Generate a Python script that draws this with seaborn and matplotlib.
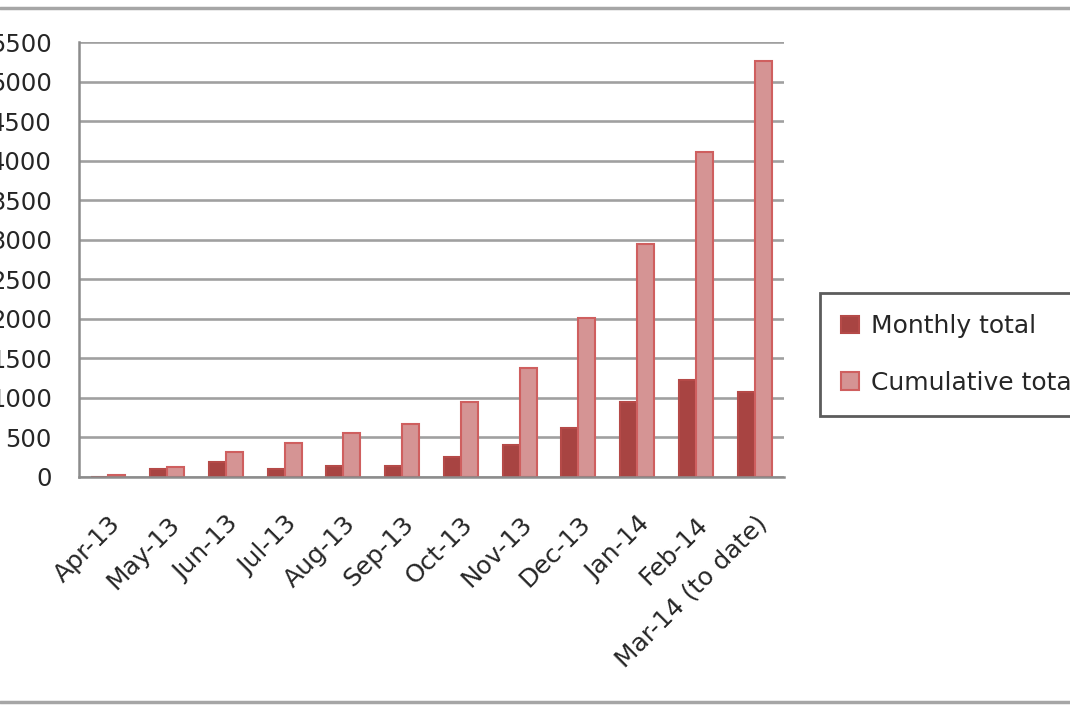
import numpy as np
import pandas as pd
import matplotlib.pyplot as plt
import seaborn as sns
from matplotlib.lines import Line2D

months = ["Apr-13", "May-13", "Jun-13", "Jul-13", "Aug-13", "Sep-13",
          "Oct-13", "Nov-13", "Dec-13", "Jan-14", "Feb-14", "Mar-14 (to date)"]
monthly = [0, 100, 190, 100, 140, 140, 250, 405, 615, 945, 1225, 1070]
cumulative = [30, 125, 315, 430, 555, 670, 945, 1375, 2005, 2950, 4105, 5255]
series = ["Monthly total", "Cumulative total"]

df = pd.DataFrame({
    "month": months * 2,
    "value": monthly + cumulative,
    "series": [series[0]] * len(months) + [series[1]] * len(months),
})

sns.set_style("white")
plt.rcParams['font.family'] = ['DejaVu Sans']

fig = plt.figure(figsize=(10.7, 7.13), dpi=100)
ax = fig.add_axes([79 / 1070, 1 - 477 / 713, (784 - 79) / 1070, (477 - 42) / 713])

fills = ["#A84442", "#D59494"]
edges = ["#B54A48", "#CF5F5F"]
sns.barplot(data=df, x="month", y="value", hue="series", order=months,
            hue_order=series, palette=fills, width=0.58, legend=False,
            saturation=1, ax=ax)
for cont, ec in zip(ax.containers, edges):
    for bar in cont:
        bar.set_edgecolor(ec)
        bar.set_linewidth(1.5)

# axes styling (Excel look)
ax.set_ylim(0, 5500)
ax.set_xlim(-0.5, len(months) - 0.5)
ax.set_yticks(np.arange(0, 5501, 500))
ax.yaxis.grid(True, color="#A0A0A0", linewidth=1.9)
ax.set_axisbelow(True)
for s in ["top", "right"]:
    ax.spines[s].set_visible(False)
for s in ["left", "bottom"]:
    ax.spines[s].set_color("#8C8C8C")
    ax.spines[s].set_linewidth(1.8)

ax.set_xlabel("")
ax.set_ylabel("")

ax.set_xticks(np.arange(-0.5, len(months)), minor=True)
ax.tick_params(axis="x", which="minor", length=7, width=1.8, color="#8C8C8C", direction="out")
ax.tick_params(axis="x", which="major", length=0, pad=25)
ax.tick_params(axis="y", length=8, width=1.8, color="#8C8C8C", pad=11.5)
ax.set_xticks(range(len(months)))
ax.set_xticklabels(months, rotation=45, ha="right", rotation_mode="anchor", fontsize=18, color="#262626")
for lab in ax.get_yticklabels():
    lab.set_fontsize(17.5)
    lab.set_color("#262626")

leg = fig.legend(handles=ax.containers, labels=series, loc="upper left",
                 bbox_to_anchor=(820 / 1070, 1 - 293 / 713), borderaxespad=0,
                 frameon=True, fancybox=False, fontsize=18,
                 handlelength=0.7, handleheight=0.7, handletextpad=0.5,
                 labelspacing=1.3, borderpad=0.85, labelcolor="#262626")
leg.get_frame().set_edgecolor("#333333")
leg.get_frame().set_linewidth(2)

# chart area border lines
for y in [1 - 8 / 713, 1 - 702 / 713]:
    fig.add_artist(Line2D([0, 1], [y, y], transform=fig.transFigure, color="#A6A6A6", linewidth=2.5))

plt.savefig("out.png", dpi=100)
